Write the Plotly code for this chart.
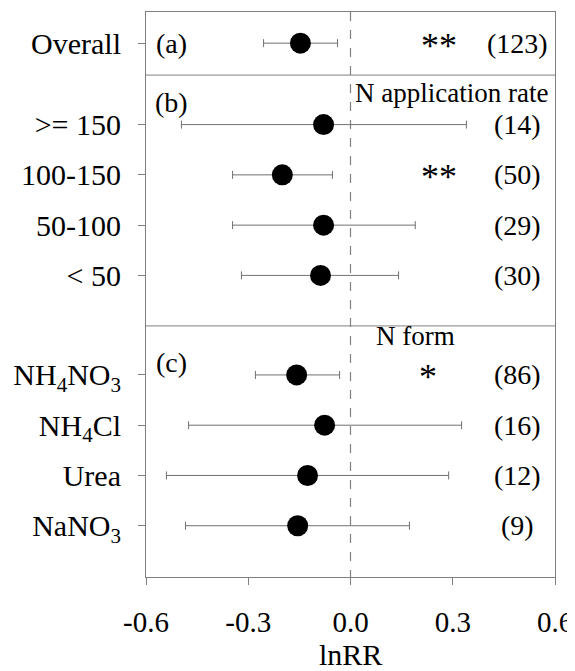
import plotly.graph_objects as go

labels = ["Overall", ">= 150", "100-150", "50-100", "< 50",
          "NH<sub>4</sub>NO<sub>3</sub>", "NH<sub>4</sub>Cl", "Urea", "NaNO<sub>3</sub>"]
means = [-0.147, -0.079, -0.200, -0.079, -0.088, -0.158, -0.076, -0.126, -0.155]
lower = [-0.255, -0.496, -0.346, -0.346, -0.320, -0.279, -0.475, -0.540, -0.484]
upper = [-0.038, 0.340, -0.053, 0.190, 0.141, -0.032, 0.326, 0.288, 0.173]
counts = ["(123)", "(14)", "(50)", "(29)", "(30)", "(86)", "(16)", "(12)", "(9)"]
stars = ["**", "", "**", "", "", "*", "", "", ""]
group_sizes = [1, 4, 4]
x_ticks = [-0.6, -0.3, 0.0, 0.3, 0.6]
x_ticktext = ["-0.6", "-0.3", "0.0", "0.3", "0.6"]

# row positions: groups separated by gaps
ypos = []
gaps = [0.0, 1.62, 6.6]
for g, n in enumerate(group_sizes):
    for i in range(n):
        ypos.append(gaps[g] + i)
dividers = [0.635, 5.625]

FONT = "Liberation Serif"
fig = go.Figure()
fig.add_trace(go.Scatter(
    x=means, y=ypos, mode="markers",
    marker=dict(color="black", size=21),
    error_x=dict(type="data", symmetric=False,
                 array=[u - m for u, m in zip(upper, means)],
                 arrayminus=[m - l for m, l in zip(means, lower)],
                 color="#707070", thickness=1, width=4),
    showlegend=False, hoverinfo="skip"))

shapes = [dict(type="line", xref="x", yref="y", x0=0, x1=0, y0=-0.62, y1=10.62,
               line=dict(color="#808080", width=1.2, dash="dash"), layer="below")]
for d in dividers:
    shapes.append(dict(type="line", xref="paper", yref="y", x0=0, x1=1, y0=d, y1=d,
                       line=dict(color="#808080", width=1)))

ann = []
for y, c in zip(ypos, counts):
    ann.append(dict(x=0.49, y=y, text=c, showarrow=False, xanchor="center",
                    font=dict(family=FONT, size=28, color="black")))
for y, s in zip(ypos, stars):
    if s:
        ann.append(dict(x=0.26 if s == "**" else 0.226, y=y + 0.05, text=s, showarrow=False,
                        xanchor="center", font=dict(family=FONT, size=36, color="black")))
for t, y in [("(a)", 0.0), ("(b)", 1.19), ("(c)", 6.36)]:
    ann.append(dict(x=-0.525, y=y, text=t, showarrow=False, xanchor="center",
                    font=dict(family=FONT, size=28, color="black")))
ann.append(dict(x=0.296, y=0.99, text="N application rate", showarrow=False,
                xanchor="center", font=dict(family=FONT, size=27, color="black")))
ann.append(dict(x=0.19, y=5.83, text="N form", showarrow=False,
                xanchor="center", font=dict(family=FONT, size=27, color="black")))
ann.append(dict(x=0.5, xref="paper", y=-77 / 565, yref="paper", text="lnRR",
                showarrow=False, xanchor="center", yanchor="middle",
                font=dict(family=FONT, size=30, color="black")))

fig.update_layout(
    width=567, height=663,
    margin=dict(l=138, r=20, t=4, b=94, autoexpand=False),
    paper_bgcolor="white", plot_bgcolor="white",
    shapes=shapes, annotations=ann,
    xaxis=dict(range=[-0.6, 0.6], tickvals=x_ticks, ticktext=x_ticktext,
               showgrid=False, zeroline=False, showline=True, linecolor="#808080",
               linewidth=1, mirror=True, ticks="outside", ticklen=7, tickcolor="#808080",
               tickfont=dict(family=FONT, size=29, color="black"), ticklabelstandoff=12,
               automargin=False),
    yaxis=dict(range=[10.62, -0.62], tickvals=ypos, ticktext=labels,
               showgrid=False, zeroline=False, showline=True, linecolor="#808080",
               linewidth=1, mirror=True, ticks="outside", ticklen=7, tickcolor="#808080",
               tickfont=dict(family=FONT, size=30, color="black"), ticklabelstandoff=11,
               automargin=False),
)
fig.write_html("out.html")
